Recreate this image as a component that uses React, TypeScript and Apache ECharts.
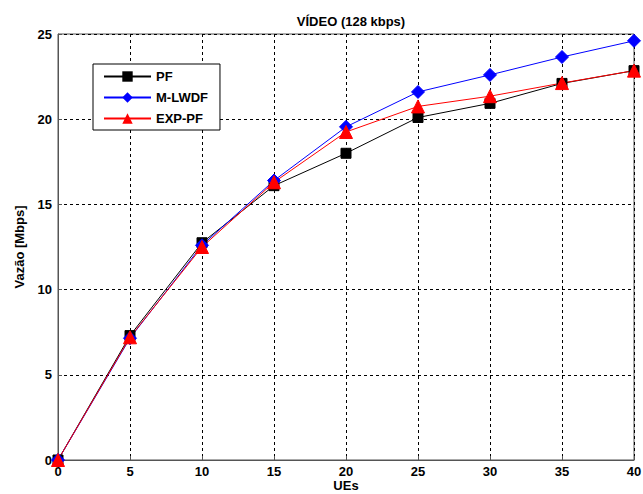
import React, { useEffect, useRef } from "react";
import * as echarts from "echarts";

const ues = [0, 5, 10, 15, 20, 25, 30, 35, 40];
const pf = [0, 7.3, 12.75, 16.1, 18.0, 20.1, 20.93, 22.1, 22.85];
const mlwdf = [0, 7.15, 12.6, 16.4, 19.55, 21.6, 22.6, 23.65, 24.6];
const exppf = [0, 7.2, 12.5, 16.3, 19.25, 20.75, 21.35, 22.12, 22.85];

const seriesNames = ["PF", "M-LWDF", "EXP-PF"];
const seriesColors = ["#000000", "#0000ff", "#ff0000"];

export default function App() {
  const ref = useRef<HTMLDivElement>(null);
  useEffect(() => {
    const chart = echarts.init(ref.current!, null, { renderer: "svg" });
    const font = "Liberation Sans, Arial, sans-serif";
    const mk = (name: string, data: number[], color: string, symbol: string, size: number) => ({
      name,
      type: "line",
      data: ues.map((u, i) => [u, data[i]]),
      symbol,
      symbolSize: size,
      showAllSymbol: true,
      lineStyle: { color, width: 1 },
      itemStyle: { color, borderColor: color },
      emphasis: { disabled: true },
    });
    chart.setOption({
      animation: false,
      backgroundColor: "#ffffff",
      title: {
        text: "VÍDEO (128 kbps)",
        left: 346,
        top: 10,
        textAlign: "center",
        textStyle: { fontFamily: font, fontSize: 13, fontWeight: "bold", color: "#000" },
      },
      legend: {
        orient: "vertical",
        left: 93,
        top: 64,
        data: seriesNames,
        backgroundColor: "#ffffff",
        borderColor: "#000000",
        borderWidth: 1,
        borderRadius: 0,
        padding: [6, 12, 5, 10],
        itemWidth: 47,
        itemHeight: 13,
        itemGap: 8,
        textStyle: { fontFamily: font, fontSize: 13, fontWeight: "bold", color: "#000" },
      },
      grid: {
        left: 58,
        right: 9,
        top: 34,
        bottom: 34,
        outerBoundsMode: "none",
        containLabel: false,
        show: true,
        borderColor: "#555555",
        borderWidth: 1,
        backgroundColor: "transparent",
      },
      xAxis: {
        type: "value",
        min: 0,
        max: 40,
        interval: 5,
        name: "UEs",
        nameLocation: "middle",
        nameGap: 19,
        nameMoveOverlap: false,
        nameTextStyle: { fontFamily: font, fontSize: 13, fontWeight: "bold", color: "#000", verticalAlign: "top" },
        axisLine: { show: true, lineStyle: { color: "#555555" } },
        axisTick: { show: true, inside: true, length: 4, lineStyle: { color: "#555555" } },
        axisLabel: { fontFamily: font, fontSize: 13, fontWeight: "bold", color: "#000", margin: 5 },
        splitLine: { show: true, lineStyle: { color: "#000", type: [3, 3], width: 1 } },
      },
      yAxis: {
        type: "value",
        min: 0,
        max: 25,
        interval: 5,
        name: "Vazão [Mbps]",
        nameLocation: "middle",
        nameGap: 32,
        nameMoveOverlap: false,
        nameRotate: 90,
        nameTextStyle: { fontFamily: font, fontSize: 13, fontWeight: "bold", color: "#000" },
        axisLine: { show: true, lineStyle: { color: "#555555" } },
        axisTick: { show: true, inside: true, length: 4, lineStyle: { color: "#555555" } },
        axisLabel: { fontFamily: font, fontSize: 13, fontWeight: "bold", color: "#000", margin: 6 },
        splitLine: { show: true, lineStyle: { color: "#000", type: [3, 3], width: 1 } },
      },
      series: [
        mk(seriesNames[0], pf, seriesColors[0], "rect", 10),
        mk(seriesNames[1], mlwdf, seriesColors[1], "diamond", 13),
        mk(seriesNames[2], exppf, seriesColors[2], "triangle", 13),
      ],
    });
    return () => chart.dispose();
  }, []);
  return <div ref={ref} style={{ width: 643, height: 494, position: "absolute", left: 0, top: 0 }} />;
}
